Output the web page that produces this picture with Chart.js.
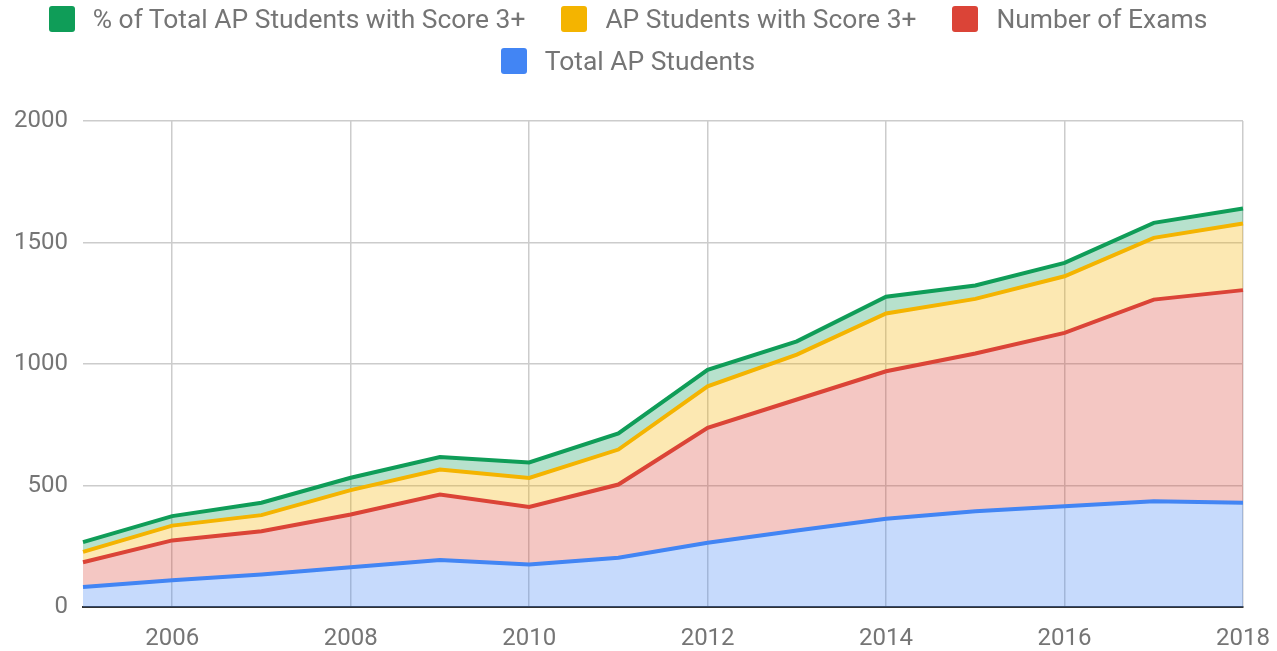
<!DOCTYPE html>
<html>
<head>
<meta charset="utf-8">
<script src="https://cdn.jsdelivr.net/npm/chart.js@4"></script>
<style>
  html, body { margin: 0; padding: 0; background: #fff; }
  #wrap { position: relative; width: 1277px; height: 651px; }
  #chart { position: absolute; left: 0; top: 0; }
  #legend {
    position: absolute; left: 0; top: 6px; width: 1256px;
    display: flex; flex-wrap: wrap; justify-content: center;
    column-gap: 36px; row-gap: 16px;
    font-family: Roboto, sans-serif; font-size: 26.4px; color: #757575;
  }
  .item { display: flex; align-items: center; height: 26px; white-space: nowrap; }
  .box { width: 26px; height: 26px; border-radius: 3px; margin-right: 18px; }
</style>
</head>
<body>
<div id="wrap">
  <canvas id="chart" width="1277" height="651"></canvas>
  <div id="legend"></div>
</div>
<script>
var years = ['2005', '2006', '2007', '2008', '2009', '2010', '2011', '2012', '2013', '2014', '2015', '2016', '2017', '2018'];
var totalStudents = [82, 110, 134, 164, 193, 175, 203, 264, 315, 363, 394, 415, 435, 429];
var numExams = [102, 164, 178, 217, 270, 237, 301, 473, 539, 607, 649, 713, 830, 875];
var studentsScore3 = [43, 61, 66, 100, 103, 119, 144, 171, 185, 238, 225, 233, 254, 274];
var pctScore3 = [40, 39, 51, 51, 51, 64, 66, 68, 54, 69, 55, 55, 62, 62];
var yTicks = [0, 500, 1000, 1500, 2000];

function series(label, data, line, fillColor, fill) {
    return {
        label: label,
        data: data,
        borderColor: line,
        backgroundColor: fillColor,
        fill: fill,
        borderWidth: 4,
        pointRadius: 0,
        tension: 0
    };
}

// fills are the line colours at 30% so the grid shows through
var datasets = [
    series('Total AP Students', totalStudents, '#4285f4', 'rgba(66, 133, 244, 0.3)', 'origin'),
    series('Number of Exams', numExams, '#db4437', 'rgba(219, 68, 55, 0.3)', '-1'),
    series('AP Students with Score 3+', studentsScore3, '#f4b400', 'rgba(244, 180, 0, 0.3)', '-1'),
    series('% of Total AP Students with Score 3+', pctScore3, '#0f9d58', 'rgba(15, 157, 88, 0.3)', '-1')
];

// legend is html, top series first
var html = '';
datasets.slice().reverse().forEach(function(ds) {
    html += '<div class="item"><span class="box" style="background:' + ds.borderColor + '"></span>' + ds.label + '</div>';
});
document.getElementById('legend').innerHTML = html;

var tickFont = { family: 'Roboto', size: 24 };

new Chart(document.getElementById('chart'), {
    type: 'line',
    data: { labels: years, datasets: datasets },
    options: {
        responsive: false,
        animation: false,
        layout: { padding: { left: 14, right: 34, top: 121, bottom: 0 } },
        plugins: {
            tooltip: { enabled: false },
            legend: { display: false }
        },
        scales: {
            x: {
                afterFit: function(axis) {
                    axis.height = 44;
                    axis.paddingLeft = 0;
                    axis.paddingRight = 0;
                },
                grid: {
                    color: function(ctx) {
                        var i = ctx.index;
                        if (i === 0) return 'rgba(0,0,0,0)';
                        return (parseInt(years[i], 10) % 2 === 0) ? '#cccccc' : 'rgba(0,0,0,0)';
                    },
                    lineWidth: 1.5,
                    drawTicks: false
                },
                border: { display: true, color: '#333333', width: 2 },
                ticks: {
                    autoSkip: false,
                    maxRotation: 0,
                    padding: 18,
                    font: tickFont,
                    color: '#757575',
                    callback: function(v, i) {
                        return parseInt(years[i], 10) % 2 === 0 ? years[i] : '';
                    }
                }
            },
            y: {
                stacked: true,
                min: 0,
                max: 2000,
                afterBuildTicks: function(axis) {
                    axis.ticks = yTicks.map(function(v) { return { value: v }; });
                },
                afterFit: function(axis) { axis.width = 69; },
                grid: { color: '#cccccc', lineWidth: 1.5, drawTicks: false },
                border: { display: false },
                ticks: {
                    padding: 15,
                    font: tickFont,
                    color: '#757575',
                    callback: function(v) { return String(v); }
                }
            }
        }
    }
});
</script>
</body>
</html>
